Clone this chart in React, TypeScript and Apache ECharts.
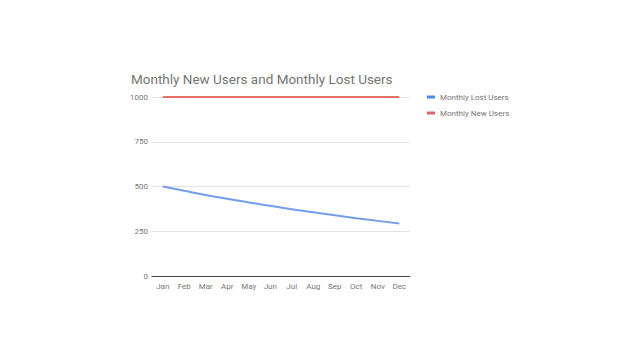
import React, { useEffect, useRef } from "react";
import * as echarts from "echarts";

const months = ["Jan", "Feb", "Mar", "Apr", "May", "Jun", "Jul", "Aug", "Sep", "Oct", "Nov", "Dec"];
const lostUsers = [500, 476, 453, 432, 411, 392, 373, 356, 339, 323, 308, 293];
const newUsers = [1000, 1000, 1000, 1000, 1000, 1000, 1000, 1000, 1000, 1000, 1000, 1000];
const yTicks = [0, 250, 500, 750, 1000];

export default function App() {
  const ref = useRef<HTMLDivElement>(null);
  useEffect(() => {
    if (!ref.current) return;
    const chart = echarts.init(ref.current, undefined, { renderer: "svg" });
    chart.setOption({
      animation: false,
      backgroundColor: "#ffffff",
      textStyle: { fontFamily: "Roboto" },
      title: {
        text: "Monthly New Users and Monthly Lost Users",
        left: 126,
        top: 67,
        textStyle: { fontSize: 13.5, fontWeight: "normal", color: "#757575", fontFamily: "Roboto" },
      },
      legend: {
        orient: "vertical",
        left: 422,
        top: 88,
        itemWidth: 8,
        itemHeight: 3,
        itemGap: 8,
        icon: "rect",
        data: ["Monthly Lost Users", "Monthly New Users"],
        textStyle: { fontSize: 8, color: "#757575", fontFamily: "Roboto", padding: [0, 0, 0, 0] },
      },
      grid: { left: 152, right: 228, top: 97, bottom: 83 },
      xAxis: {
        type: "category",
        data: months,
        boundaryGap: true,
        axisLine: { lineStyle: { color: "#444444", width: 1 } },
        axisTick: { show: false },
        axisLabel: { fontSize: 8, color: "#777777", margin: 6 },
      },
      yAxis: {
        type: "value",
        min: yTicks[0],
        max: yTicks[yTicks.length - 1],
        interval: 250,
        axisLine: { show: false },
        axisTick: { show: false },
        axisLabel: { fontSize: 8, color: "#777777", margin: 4, formatter: (v: number) => String(v) },
        splitLine: { lineStyle: { color: "#e3e3e3", width: 1 } },
      },
      series: [
        {
          name: "Monthly Lost Users",
          type: "line",
          data: lostUsers,
          smooth: true,
          symbol: "none",
          lineStyle: { color: "#739de6", width: 2 },
          itemStyle: { color: "#4a86e8" },
        },
        {
          name: "Monthly New Users",
          type: "line",
          data: newUsers,
          symbol: "none",
          lineStyle: { color: "#e57368", width: 2 },
          itemStyle: { color: "#e06666" },
        },
      ],
    });
    return () => chart.dispose();
  }, []);
  return (
    <div
      ref={ref}
      style={{ position: "fixed", left: 0, top: 0, width: 638, height: 359, background: "#fff" }}
    />
  );
}
